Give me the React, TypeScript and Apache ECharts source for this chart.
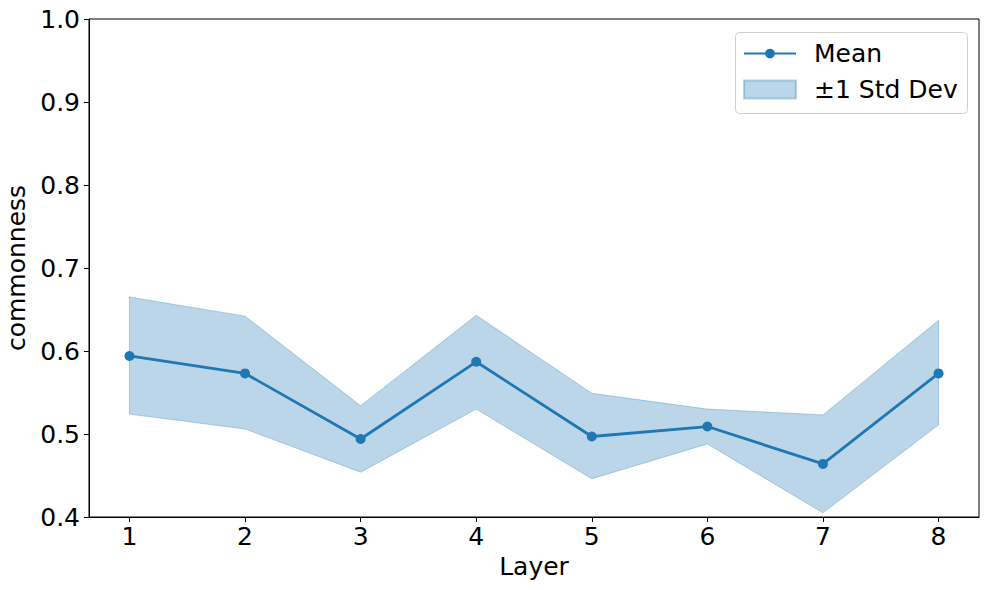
import React, { useEffect, useRef } from "react";
import * as echarts from "echarts";

const layers = [1, 2, 3, 4, 5, 6, 7, 8];
const meanValues = [0.594, 0.573, 0.494, 0.587, 0.497, 0.509, 0.464, 0.573];
const upperValues = [0.665, 0.642, 0.534, 0.643, 0.549, 0.530, 0.523, 0.637];
const lowerValues = [0.524, 0.506, 0.454, 0.530, 0.446, 0.488, 0.405, 0.511];
const yTicks = [0.4, 0.5, 0.6, 0.7, 0.8, 0.9, 1.0];

const FONT = "DejaVu Sans";
const FS = 25;
const BLUE = "#1f77b4";
const BAND = "rgba(31,119,180,0.3)";

export default function App() {
  const ref = useRef<HTMLDivElement>(null);
  useEffect(() => {
    if (!ref.current) return;
    const chart = echarts.init(ref.current, null, { renderer: "svg" });
    const legendText = {
      fontFamily: FONT,
      fontSize: FS,
      color: "#000",
      padding: [0, 0, 0, 13],
    };
    const option: any = {
      animation: false,
      backgroundColor: "#fff",
      textStyle: { fontFamily: FONT },
      grid: {
        left: 89,
        right: 10,
        top: 19,
        bottom: 73,
        containLabel: false,
        outerBoundsMode: "none",
        show: true,
        borderColor: "#000",
        borderWidth: 1,
        backgroundColor: "transparent",
      },
      graphic: [
        {
          type: "rect",
          left: 735,
          top: 32,
          z: 3,
          shape: { width: 232, height: 81, r: 4 },
          style: { fill: "#fff", stroke: "#d0d0d0", lineWidth: 1 },
        },
      ],
      legend: [
        {
          orient: "vertical",
          left: 743,
          top: 41,
          data: [{ name: "Mean" }],
          itemWidth: 52,
          itemHeight: 12,
          padding: 0,
          textStyle: legendText,
          z: 5,
        },
        {
          orient: "vertical",
          left: 743,
          top: 77,
          data: [{ name: "±1 Std Dev", icon: "rect" }],
          itemWidth: 52,
          itemHeight: 18,
          padding: 0,
          textStyle: legendText,
          z: 5,
        },
      ],
      xAxis: {
        type: "value",
        min: 0.65,
        max: 8.35,
        name: "Layer",
        nameLocation: "middle",
        nameGap: 37,
        nameTextStyle: { fontFamily: FONT, fontSize: FS, color: "#000" },
        axisLine: { show: true, lineStyle: { color: "#000", width: 1 } },
        axisTick: {
          show: true,
          length: 5,
          inside: false,
          customValues: layers,
          lineStyle: { color: "#000" },
        },
        axisLabel: {
          customValues: layers,
          margin: 7,
          fontFamily: FONT,
          fontSize: FS,
          color: "#000",
          formatter: (v: number) => String(v),
        },
        splitLine: { show: false },
      },
      yAxis: {
        type: "value",
        min: 0.4,
        max: 1.0,
        interval: 0.1,
        name: "commonness",
        nameLocation: "middle",
        nameGap: 52,
        nameRotate: 90,
        nameTextStyle: { fontFamily: FONT, fontSize: FS, color: "#000" },
        axisLine: { show: true, lineStyle: { color: "#000", width: 1 } },
        axisTick: { show: true, length: 5, lineStyle: { color: "#000" } },
        axisLabel: {
          margin: 9,
          fontFamily: FONT,
          fontSize: FS,
          color: "#000",
          customValues: yTicks,
          formatter: (v: number) => v.toFixed(1),
        },
        splitLine: { show: false },
      },
      series: [
        {
          name: "±1 Std Dev",
          type: "custom",
          data: layers.map((l, i) => [l, lowerValues[i], upperValues[i]]),
          encode: { x: 0, y: [1, 2] },
          itemStyle: { color: BAND, borderColor: BAND, borderWidth: 1 },
          z: 1,
          renderItem: (params: any, api: any) => {
            if (params.dataIndex !== 0) return null;
            const pts: number[][] = [];
            for (let i = 0; i < layers.length; i++) {
              pts.push(api.coord([layers[i], upperValues[i]]));
            }
            for (let i = layers.length - 1; i >= 0; i--) {
              pts.push(api.coord([layers[i], lowerValues[i]]));
            }
            return {
              type: "polygon",
              shape: { points: pts },
              style: { fill: BAND, stroke: BAND, lineWidth: 1 },
            };
          },
        },
        {
          name: "Mean",
          type: "line",
          data: layers.map((l, i) => [l, meanValues[i]]),
          symbol: "circle",
          symbolSize: 10,
          showSymbol: true,
          lineStyle: { color: BLUE, width: 2.8 },
          itemStyle: { color: BLUE },
          z: 3,
        },
      ],
    };
    chart.setOption(option);
    return () => chart.dispose();
  }, []);
  return <div ref={ref} style={{ width: 989, height: 590, position: "absolute", left: 0, top: 0 }} />;
}
